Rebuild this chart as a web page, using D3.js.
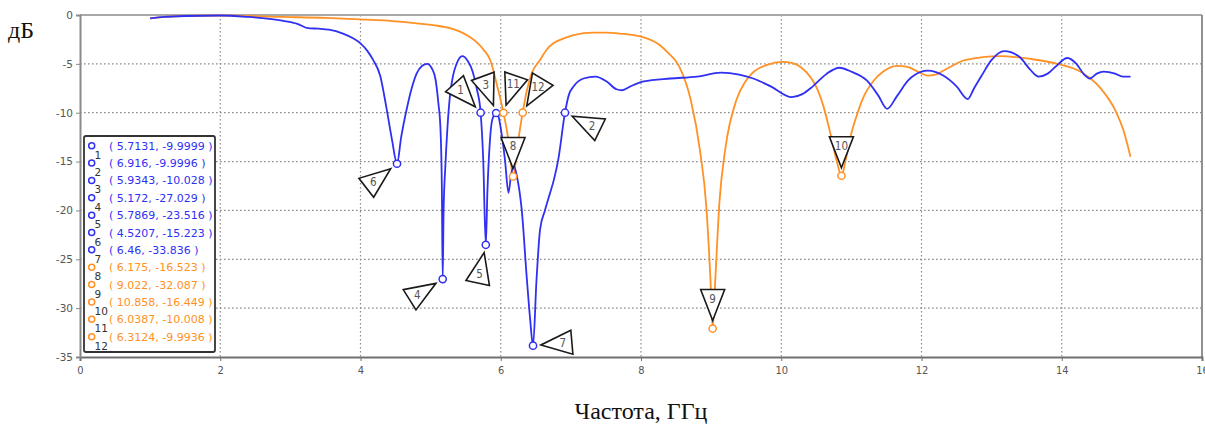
<!DOCTYPE html>
<html><head><meta charset="utf-8">
<script src="https://cdn.jsdelivr.net/npm/d3@7"></script>
<style>
html,body{margin:0;padding:0;background:#fff;}
svg{display:block;}
</style></head>
<body>
<svg id="chart" width="1205" height="424"></svg>
<script>
// ---------- data ----------
const blueFreq = [1.0,1.2,1.5,2.0,2.4,2.7,2.9,3.1,3.25,3.4,3.55,3.75,3.9,4.0,4.1,4.18,4.28,4.37,4.45,4.5207,4.58,4.66,4.73,4.8,4.88,4.95,5.02,5.07,5.11,5.14,5.16,5.172,5.185,5.21,5.24,5.28,5.32,5.37,5.45,5.53,5.6,5.66,5.7131,5.75,5.7869,5.81,5.84,5.88,5.9343,5.96,6.0,6.06,6.11,6.15,6.19,6.23,6.3,6.37,6.42,6.46,6.51,6.56,6.63,6.7,6.76,6.82,6.916,6.97,7.04,7.18,7.35,7.51,7.65,7.73,7.85,8.04,8.42,8.8,9.14,9.4,9.6,9.85,10.15,10.3,10.45,10.65,10.83,11.0,11.22,11.38,11.51,11.65,11.81,12.0,12.09,12.31,12.5,12.66,12.75,12.85,13.0,13.18,13.4,13.55,13.67,13.8,13.91,14.08,14.21,14.32,14.4,14.5,14.6,14.76,14.87,14.98];
const blueDb   = [-0.35,-0.2,-0.1,-0.05,-0.2,-0.4,-0.6,-0.9,-1.35,-1.4,-1.5,-1.9,-2.4,-2.9,-3.7,-4.6,-6.2,-9.5,-12.8,-15.223,-12.5,-9.6,-7.5,-6.0,-5.2,-5.0,-5.5,-6.6,-9.0,-11.6,-17.5,-27.029,-20.0,-15.5,-11.5,-8.0,-6.2,-5.0,-4.2,-4.7,-5.8,-7.6,-9.9999,-14.8,-23.516,-18.0,-13.5,-10.7,-10.028,-10.2,-11.6,-14.8,-18.2,-16.2,-15.5,-16.5,-20.0,-26.8,-31.2,-33.836,-27.1,-22.0,-20.0,-18.3,-16.8,-14.8,-9.9996,-8.2,-7.3,-6.5,-6.3,-6.8,-7.6,-7.7,-7.3,-6.8,-6.5,-6.3,-5.9,-6.1,-6.5,-7.3,-8.4,-8.1,-7.3,-6.0,-5.4,-5.8,-6.7,-8.2,-9.6,-8.3,-6.7,-5.8,-5.7,-6.2,-7.3,-8.6,-7.5,-6.3,-4.6,-3.7,-4.3,-5.6,-6.3,-6.0,-5.3,-4.4,-5.0,-6.1,-6.5,-6.0,-5.8,-6.0,-6.3,-6.3];

const orangeFreq = [1.0,1.3,2.0,2.9,3.5,4.0,4.5,4.8,5.1,5.3,5.45,5.57,5.66,5.76,5.85,5.94,6.0387,6.11,6.175,6.25,6.3124,6.37,6.44,6.56,6.66,6.75,6.9,7.04,7.32,7.5,7.7,8.04,8.27,8.39,8.54,8.71,8.84,8.93,8.99,9.022,9.06,9.12,9.2,9.36,9.48,9.58,9.8,10.02,10.15,10.29,10.42,10.51,10.6,10.7,10.8,10.858,10.92,11.0,11.08,11.16,11.32,11.45,11.65,11.8,11.92,12.09,12.2,12.31,12.63,13.12,13.56,13.94,14.27,14.49,14.62,14.76,14.88,14.98];
const orangeDb   = [-0.35,-0.15,-0.05,-0.2,-0.3,-0.45,-0.65,-0.85,-1.1,-1.4,-1.8,-2.3,-2.8,-3.6,-4.6,-7.0,-10.008,-12.8,-16.523,-12.8,-9.9936,-7.8,-6.0,-4.6,-3.5,-2.9,-2.4,-2.05,-1.8,-1.8,-1.9,-2.3,-3.1,-3.9,-5.2,-8.7,-13.8,-19.5,-27.0,-32.087,-27.0,-19.0,-13.8,-8.7,-6.9,-6.0,-5.1,-4.8,-4.9,-5.4,-6.4,-7.5,-9.3,-12.1,-15.2,-16.449,-14.8,-12.1,-10.2,-8.6,-6.7,-5.8,-5.2,-5.3,-5.7,-6.2,-6.1,-5.7,-4.6,-4.2,-4.5,-5.0,-5.8,-7.0,-8.1,-9.7,-11.8,-14.5];

const markerFreq   = [5.7131,6.916,5.9343,5.172,5.7869,4.5207,6.46,6.175,9.022,10.858,6.0387,6.3124];
const markerDb     = [-9.9999,-9.9996,-10.028,-27.029,-23.516,-15.223,-33.836,-16.523,-32.087,-16.449,-10.008,-9.9936];
const markerSeries = ["blue","blue","blue","blue","blue","blue","blue","orange","orange","orange","orange","orange"];
const markerNames  = ["1","2","3","4","5","6","7","8","9","10","11","12"];

const xTicks = [0,2,4,6,8,10,12,14,16];
const yTicks = [0,-5,-10,-15,-20,-25,-30,-35];
const yLabel = "дБ";
const xLabel = "Частота, ГГц";

// ---------- layout / style ----------
const colors = {blue:"#3030f2", orange:"#ff9125"};
// callout direction (degrees, screen coords) per marker
const calloutAngle = [-132,26,-110,148,102,142,-5,-90,-90,-90,-71,-59];

const W = 1205, H = 424;
const L = 80, R = 1202, T = 15, B = 357;
const svg = d3.select("#chart");

const x = d3.scaleLinear().domain([0,16]).range([L,R]);
const y = d3.scaleLinear().domain([-35,0]).range([B,T]);

// background
svg.append("rect").attr("x",L).attr("y",T).attr("width",R-L).attr("height",B-T).attr("fill","#fff");

// grid
const grid = svg.append("g");
grid.selectAll("line.v").data(xTicks.filter(d=>d>0 && d<16)).join("line")
  .attr("x1",d=>x(d)).attr("x2",d=>x(d)).attr("y1",T).attr("y2",B)
  .attr("stroke","#8a8a8a").attr("stroke-width",1.2).attr("stroke-dasharray","1.6,2.4");
grid.selectAll("line.h").data(yTicks.filter(d=>d<0 && d>-35)).join("line")
  .attr("x1",L).attr("x2",R).attr("y1",d=>y(d)).attr("y2",d=>y(d))
  .attr("stroke","#8a8a8a").attr("stroke-width",1.2).attr("stroke-dasharray","1.6,2.4");

// frame
svg.append("line").attr("x1",L).attr("x2",R).attr("y1",T).attr("y2",T).attr("stroke","#a8a8a8").attr("stroke-width",2);
svg.append("line").attr("x1",R).attr("x2",R).attr("y1",T).attr("y2",B).attr("stroke","#909090").attr("stroke-width",2);

// axes
const xAxis = d3.axisBottom(x).tickValues(xTicks).tickSize(4).tickFormat(d3.format("d"));
const gx = svg.append("g").attr("transform",`translate(0,${B})`).call(xAxis);
gx.select(".domain").attr("stroke","#707070").attr("stroke-width",2);
gx.selectAll(".tick line").attr("stroke","#707070");
gx.selectAll("text").attr("font-family","'Liberation Sans Narrow','DejaVu Sans Condensed','Liberation Sans',sans-serif")
  .attr("font-size",11).attr("fill","#555").attr("dy","0.9em");

const yAxis = d3.axisLeft(y).tickValues(yTicks).tickSize(4).tickFormat(d3.format("d"));
const gy = svg.append("g").attr("transform",`translate(${L},0)`).call(yAxis);
gy.select(".domain").attr("stroke","#8a8a8a").attr("stroke-width",2);
gy.selectAll(".tick line").attr("stroke","#8a8a8a");
gy.selectAll("text").attr("font-family","'DejaVu Sans',sans-serif").attr("font-size",10.5).attr("fill","#555")
  .text(d=> d===0 ? "0" : "-" + Math.abs(d));

// curves
const line = d3.line().x(d=>x(d[0])).y(d=>y(d[1])).curve(d3.curveMonotoneX);
const series = [
  {key:"orange", pts: d3.zip(orangeFreq, orangeDb)},
  {key:"blue",   pts: d3.zip(blueFreq, blueDb)}
];
svg.append("g").selectAll("path").data(series).join("path")
  .attr("d",d=>line(d.pts)).attr("fill","none")
  .attr("stroke",d=>colors[d.key]).attr("stroke-width",1.8).attr("stroke-linejoin","round");

// markers
const markers = markerFreq.map((f,i)=>({f, v:markerDb[i], s:markerSeries[i], n:markerNames[i], a:calloutAngle[i]}));
svg.append("g").selectAll("circle").data(markers).join("circle")
  .attr("cx",d=>x(d.f)).attr("cy",d=>y(d.v)).attr("r",3.6)
  .attr("fill","#fff").attr("stroke",d=>colors[d.s]).attr("stroke-width",1.5);

// callout triangles
const tipOff = 8, triH = 31, halfBase = 12, labelDist = 30;
const cg = svg.append("g");
markers.forEach(d=>{
  const cx = x(d.f), cy = y(d.v);
  const a = d.a*Math.PI/180, ux = Math.cos(a), uy = Math.sin(a), px = -uy, py = ux;
  const tx = cx+ux*tipOff, ty = cy+uy*tipOff;
  const bx = cx+ux*(tipOff+triH), by = cy+uy*(tipOff+triH);
  const pts = [[tx,ty],[bx+px*halfBase,by+py*halfBase],[bx-px*halfBase,by-py*halfBase]];
  cg.append("polygon").attr("points",pts.map(p=>p.join(",")).join(" "))
    .attr("fill","#fff").attr("stroke","#1a1a1a").attr("stroke-width",1.6).attr("stroke-linejoin","miter");
  cg.append("text").attr("x",cx+ux*labelDist).attr("y",cy+uy*labelDist)
    .attr("text-anchor","middle").attr("dominant-baseline","central")
    .attr("font-family","'DejaVu Sans Condensed','DejaVu Sans',sans-serif").attr("font-size",11.5)
    .attr("fill","#555").text(d.n);
});

// legend
const lx = 84, ly = 136, lw = 131, lh = 216, rowH = 17.36;
const lg = svg.append("g");
lg.append("rect").attr("x",lx).attr("y",ly).attr("width",lw).attr("height",lh).attr("rx",2)
  .attr("fill","#fff").attr("stroke","#333").attr("stroke-width",1.8);
markers.forEach((d,i)=>{
  const ry = 145.7 + i*rowH;
  lg.append("circle").attr("cx",91.7).attr("cy",ry).attr("r",3).attr("fill","none")
    .attr("stroke",colors[d.s]).attr("stroke-width",1.5);
  lg.append("text").attr("x",94.5).attr("y",ry+13).attr("font-family","'DejaVu Sans',sans-serif")
    .attr("font-size",10.5).attr("fill","#333").text(d.n);
  lg.append("text").attr("x",109).attr("y",ry+4).attr("font-family","'DejaVu Sans',sans-serif")
    .attr("font-size",11).attr("fill",colors[d.s]).text(`( ${d.f}, ${d.v} )`);
});

// axis titles
svg.append("text").attr("x",8).attr("y",38).attr("font-family","'Liberation Serif','Times New Roman',serif")
  .attr("font-size",24).attr("fill","#111").text(yLabel);
svg.append("text").attr("x",641).attr("y",419).attr("text-anchor","middle")
  .attr("font-family","'Liberation Serif','Times New Roman',serif").attr("font-size",24).attr("fill","#111").text(xLabel);
</script>
</body></html>
